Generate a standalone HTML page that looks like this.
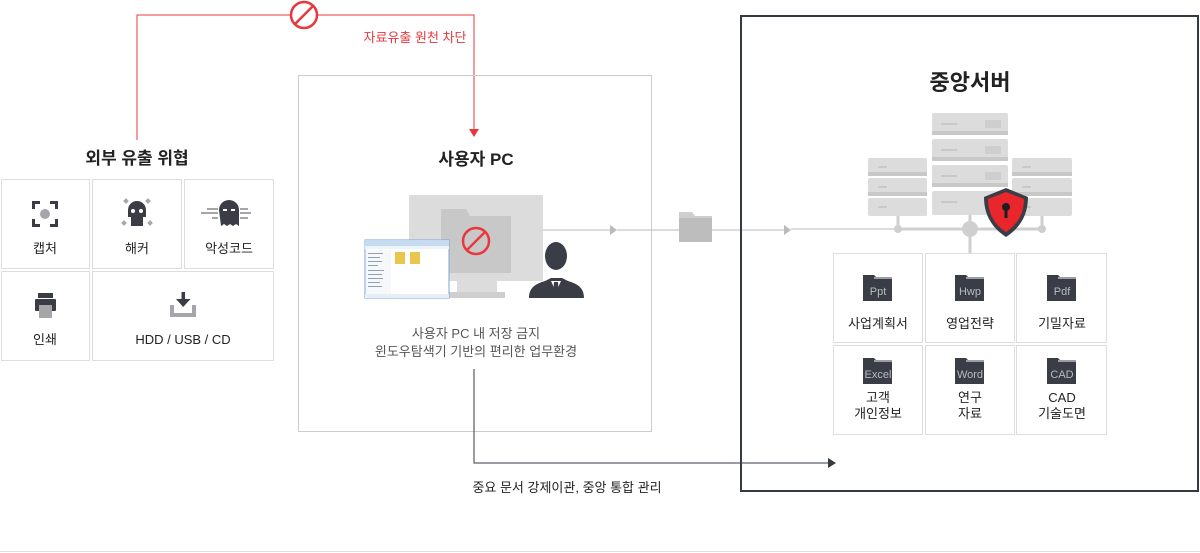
<!DOCTYPE html>
<html><head><meta charset="utf-8">
<style>
html,body{margin:0;padding:0;background:#fff;}
svg{display:block;font-family:"Liberation Sans","Noto Sans CJK KR",sans-serif;}
</style></head>
<body>
<svg width="1200" height="553" viewBox="0 0 1200 553" xmlns="http://www.w3.org/2000/svg">
<polyline points="137,140 137,15 474,15 474,130" fill="none" stroke="#e8383d" stroke-width="1"/>
<polygon points="469,129 479,129 474,137" fill="#e8383d"/>
<circle cx="304" cy="15" r="13" fill="#fff" stroke="#e8383d" stroke-width="2.5"/>
<line x1="295" y1="24" x2="313" y2="6" stroke="#e8383d" stroke-width="2.5"/>
<text x="415" y="42" font-size="13" fill="#e8383d" text-anchor="middle">자료유출 원천 차단</text>

<text x="137" y="164" font-size="17" font-weight="bold" fill="#222" text-anchor="middle">외부 유출 위협</text>
<g fill="#fff" stroke="#ddd" stroke-width="1">
<rect x="1.5" y="179.5" width="88" height="89"/>
<rect x="92.5" y="179.5" width="89" height="89"/>
<rect x="184.5" y="179.5" width="89" height="89"/>
<rect x="1.5" y="271.5" width="88" height="89"/>
<rect x="92.5" y="271.5" width="181" height="89"/>
</g>
<g font-size="13" fill="#222" text-anchor="middle">
<text x="45" y="253">캡처</text>
<text x="137" y="253">해커</text>
<text x="229" y="253">악성코드</text>
<text x="45" y="344">인쇄</text>
<text x="183" y="344">HDD / USB / CD</text>
</g>
<g fill="#3a3d46">
<path d="M32,201h8v3h-5v5h-3zM50,201h8v8h-3v-5h-5zM32,219h3v5h5v3h-8zM55,219h3v8h-8v-3h5z"/>
</g>
<circle cx="45" cy="214" r="5" fill="#a6a6aa"/>
<g fill="#a6a6aa"><rect x="124" y="199" width="4" height="4" transform="rotate(45 126 201)"/><rect x="146" y="199" width="4" height="4" transform="rotate(45 148 201)"/><rect x="122" y="221" width="4" height="4" transform="rotate(45 124 223)"/><rect x="148" y="221" width="4" height="4" transform="rotate(45 150 223)"/></g>
<path d="M128,210a9,9 0 0 1 18,0v7h-3v9h-12v-9h-3z" fill="#3a3d46"/>
<circle cx="133" cy="211" r="2" fill="#fff"/><circle cx="141" cy="211" r="2" fill="#fff"/>
<g fill="#a6a6aa"><rect x="201" y="212" width="17" height="2"/><rect x="207" y="208" width="11" height="2"/><rect x="240" y="212" width="11" height="2"/><rect x="240" y="208" width="8" height="2"/><rect x="240" y="217" width="8" height="2"/><rect x="212" y="217" width="6" height="2"/></g>
<path d="M219,210a10,10 0 0 1 20,0v16l-3,-2l-3,2l-3,-2l-3,2l-3,-2l-3,2z" fill="#3a3d46"/>
<rect x="223" y="209" width="4" height="2" fill="#fff"/><rect x="231" y="209" width="4" height="2" fill="#fff"/>
<rect x="38" y="293" width="15" height="5" fill="#3a3d46"/>
<rect x="35" y="299" width="21" height="12" rx="1" fill="#3a3d46"/>
<rect x="39" y="305" width="13" height="13" fill="#a6a6aa"/>
<!-- download -->
<rect x="181.5" y="292" width="3.5" height="10" fill="#3a3d46"/>
<polygon points="176,299 190.5,299 183.2,307" fill="#3a3d46"/>
<path d="M170,305h4v8h18v-8h4v12h-26z" fill="#a6a6aa"/>

<rect x="298.5" y="75.5" width="353" height="356" fill="none" stroke="#ccc"/>
<text x="476" y="165" font-size="17" font-weight="bold" fill="#222" text-anchor="middle">사용자 PC</text>
<rect x="409" y="195" width="134" height="86" fill="#dcdcdc"/>
<rect x="457" y="281" width="40" height="12" fill="#dcdcdc"/>
<rect x="449" y="292" width="56" height="6" fill="#cfcfcf"/>
<path d="M441,209h25l4,7h41v57h-70z" fill="#c8c8c8"/>
<circle cx="476" cy="241" r="13" fill="none" stroke="#e8383d" stroke-width="2.5"/>
<line x1="467" y1="250" x2="485" y2="232" stroke="#e8383d" stroke-width="2.5"/>
<rect x="365" y="240" width="84" height="58" fill="#fff" stroke="#7aa6d6" stroke-width="1"/>
<rect x="365" y="240" width="84" height="6" fill="#c6daf0"/>
<rect x="365" y="246" width="84" height="3" fill="#eef3f9"/>
<rect x="366" y="250" width="25" height="44" fill="#f6f8fb"/>
<g fill="#8fa0b4"><rect x="368" y="253" width="15" height="1"/><rect x="368" y="257" width="12" height="1"/><rect x="368" y="261" width="14" height="1"/><rect x="368" y="265" width="10" height="1"/><rect x="368" y="270" width="16" height="1"/><rect x="368" y="274" width="14" height="1"/><rect x="368" y="278" width="15" height="1"/><rect x="368" y="282" width="12" height="1"/><rect x="368" y="286" width="14" height="1"/></g>
<rect x="395" y="252" width="10" height="12" fill="#e9c64e"/><rect x="410" y="252" width="10" height="12" fill="#e9c64e"/>
<rect x="365" y="294" width="84" height="4" fill="#e8eef6"/>
<path d="M529,298c0-10 6-14 16-17l6-3h11l6,3c10,3 16,7 16,17z" fill="#3a3d46"/>
<ellipse cx="556" cy="256" rx="11" ry="14" fill="#3a3d46"/>
<polygon points="551,281 561,281 556,292" fill="#fff"/>
<polygon points="554,282 558,282 559,296 556,298 553,296" fill="#3a3d46"/>
<g font-size="13" fill="#555" text-anchor="middle">
<text x="476" y="338">사용자 PC 내 저장 금지</text>
<text x="476" y="356">윈도우탐색기 기반의 편리한 업무환경</text>
</g>
<line x1="543" y1="230" x2="611" y2="230" stroke="#bbb"/>
<polygon points="610,225 617,230 610,235" fill="#bbb"/>
<line x1="617" y1="230" x2="790" y2="230" stroke="#bbb"/>
<polygon points="784,225 791,230 784,235" fill="#bbb"/>
<path d="M679,212h13l3,4h17v26h-33z" fill="#cfcfcf"/>
<rect x="679" y="218" width="33" height="24" fill="#bdbdbd"/>
<line x1="791" y1="229" x2="898" y2="229" stroke="#bbb"/>

<polyline points="474,369 474,463 828,463" fill="none" stroke="#333a44" stroke-width="1"/>
<polygon points="828,458 836,463 828,468" fill="#333a44"/>
<text x="567" y="492" font-size="13" fill="#222" text-anchor="middle">중요 문서 강제이관, 중앙 통합 관리</text>

<rect x="741" y="16" width="457" height="475" fill="none" stroke="#333a44" stroke-width="2"/>
<text x="970" y="90" font-size="22" font-weight="bold" fill="#222" text-anchor="middle">중앙서버</text>
<g fill="#dcdcdc">
<rect x="932" y="113" width="76" height="22" rx="2"/><rect x="932" y="139" width="76" height="22" rx="2"/><rect x="932" y="165" width="76" height="22" rx="2"/><rect x="932" y="191" width="76" height="24" rx="2"/>
<rect x="868" y="158" width="59" height="18" rx="2"/><rect x="868" y="178" width="59" height="18" rx="2"/><rect x="868" y="198" width="59" height="18" rx="2"/>
<rect x="1012" y="158" width="60" height="18" rx="2"/><rect x="1012" y="178" width="60" height="18" rx="2"/><rect x="1012" y="198" width="60" height="18" rx="2"/>
</g>
<g fill="#c8c8c8">
<rect x="932" y="131" width="76" height="4"/><rect x="932" y="157" width="76" height="4"/><rect x="932" y="183" width="76" height="4"/>
<rect x="868" y="172" width="59" height="4"/><rect x="868" y="192" width="59" height="4"/><rect x="1012" y="172" width="60" height="4"/><rect x="1012" y="192" width="60" height="4"/>
<rect x="941" y="123" width="16" height="2"/><rect x="941" y="149" width="16" height="2"/><rect x="941" y="175" width="16" height="2"/><rect x="941" y="201" width="16" height="2"/>
<rect x="878" y="166" width="9" height="2"/><rect x="878" y="186" width="9" height="2"/><rect x="878" y="206" width="9" height="2"/>
<rect x="1022" y="166" width="9" height="2"/><rect x="1022" y="186" width="9" height="2"/><rect x="1022" y="206" width="9" height="2"/>
<rect x="985" y="120" width="16" height="8" opacity="0.7"/><rect x="985" y="146" width="16" height="8" opacity="0.7"/><rect x="985" y="172" width="16" height="8" opacity="0.7"/>
</g>
<g stroke="#cfcfcf" stroke-width="3">
<line x1="898" y1="216" x2="898" y2="229"/><line x1="1042" y1="216" x2="1042" y2="229"/><line x1="970" y1="215" x2="970" y2="255"/>
<line x1="898" y1="229" x2="1042" y2="229"/>
</g>
<circle cx="898" cy="229" r="4" fill="#cfcfcf"/><circle cx="1042" cy="229" r="4" fill="#cfcfcf"/><circle cx="970" cy="229" r="8" fill="#cfcfcf"/>
<path d="M1006,188l22,9c0,18-8,31-22,40c-14-9-22-22-22-40z" fill="#3a3d46"/>
<path d="M1006,192l18,7c0,15-7,26-18,33c-11-7-18-18-18-33z" fill="#e8262b"/>
<circle cx="1006" cy="207" r="4" fill="#1e1e22"/><rect x="1004.5" y="208" width="3" height="10" fill="#1e1e22"/>
<g fill="#fff" stroke="#ddd">
<rect x="833.5" y="253.5" width="89" height="89"/><rect x="925.5" y="253.5" width="89" height="89"/><rect x="1016.5" y="253.5" width="90" height="89"/>
<rect x="833.5" y="345.5" width="89" height="89"/><rect x="925.5" y="345.5" width="89" height="89"/><rect x="1016.5" y="345.5" width="90" height="89"/>
</g>
<g fill="#3a3d46">
<path d="M863,275h11l4,4h14v22h-29z"/><path d="M955,275h11l4,4h14v22h-29z"/><path d="M1047,275h11l4,4h14v22h-29z"/>
<path d="M863,358h11l4,4h14v22h-29z"/><path d="M955,358h11l4,4h14v22h-29z"/><path d="M1047,358h11l4,4h14v22h-29z"/>
</g>
<g fill="#9b9ea6"><rect x="874" y="277" width="18" height="2"/><rect x="966" y="277" width="18" height="2"/><rect x="1058" y="277" width="18" height="2"/><rect x="874" y="360" width="18" height="2"/><rect x="966" y="360" width="18" height="2"/><rect x="1058" y="360" width="18" height="2"/></g>
<g font-size="11" fill="#b8bbc2" text-anchor="middle">
<text x="878" y="295">Ppt</text><text x="970" y="295">Hwp</text><text x="1062" y="295">Pdf</text>
<text x="878" y="378">Excel</text><text x="970" y="378">Word</text><text x="1062" y="378">CAD</text>
</g>
<g font-size="13" fill="#222" text-anchor="middle">
<text x="878" y="328">사업계획서</text><text x="970" y="328">영업전략</text><text x="1062" y="328">기밀자료</text>
<text x="878" y="402">고객</text><text x="878" y="418">개인정보</text>
<text x="970" y="402">연구</text><text x="970" y="418">자료</text>
<text x="1062" y="402">CAD</text><text x="1062" y="418">기술도면</text>
</g>
<line x1="0" y1="551.5" x2="1200" y2="551.5" stroke="#ddd"/>
</svg>
</body></html>
